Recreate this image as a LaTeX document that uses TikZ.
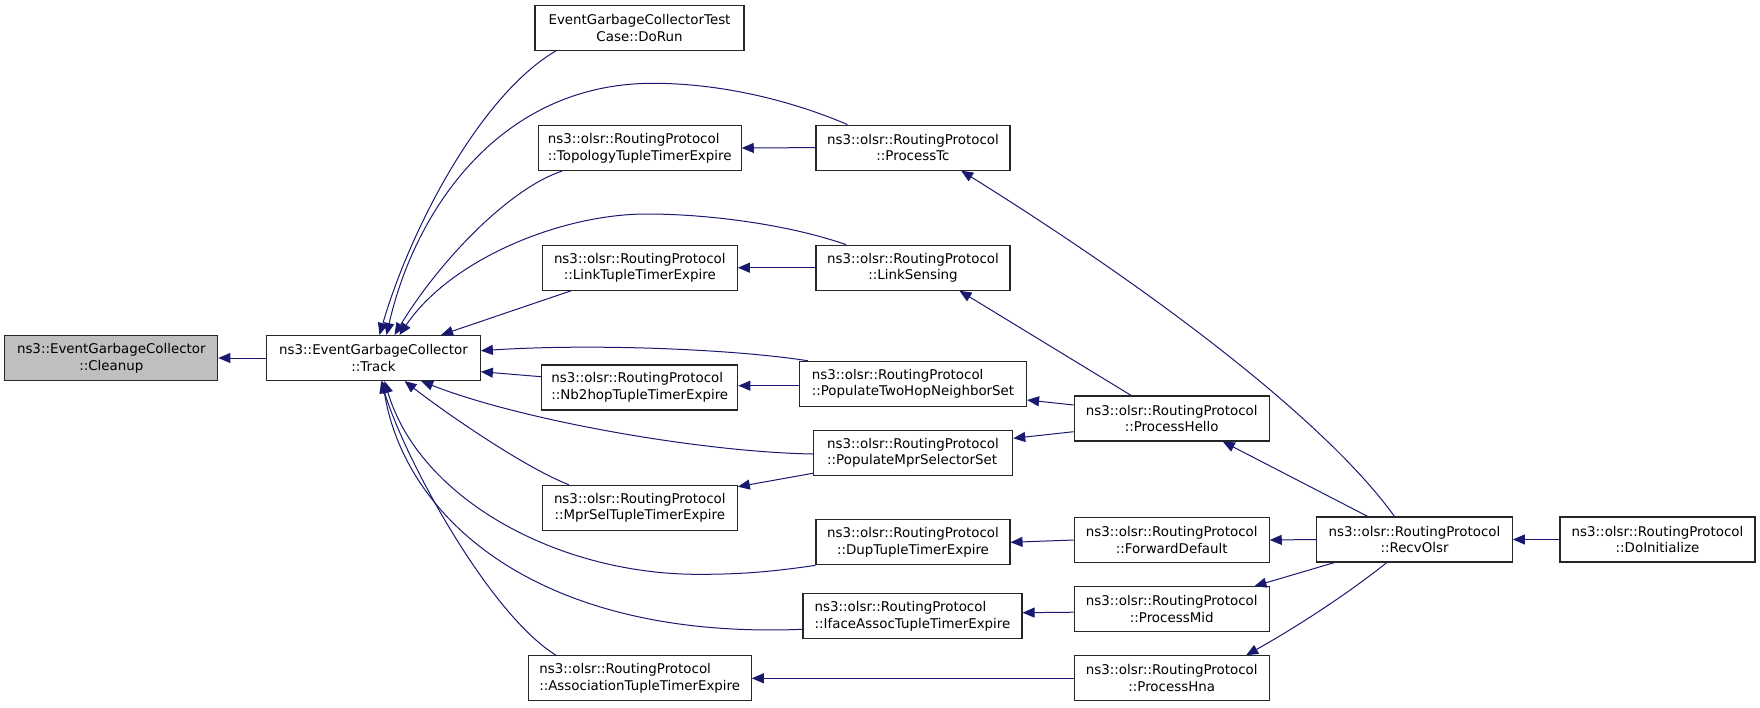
\documentclass[tikz,border=0pt]{standalone}
\usepackage{fontspec}
\setmainfont{DejaVu Sans}
\usetikzlibrary{arrows.meta}
\definecolor{navy}{HTML}{191970}
\definecolor{grayfill}{HTML}{BFBFBF}
\begin{document}
\begin{tikzpicture}[x=1pt,y=-1pt,
  fn/.style={draw=black!85,line width=1.1pt,fill=white,minimum height=45pt,inner sep=0pt,align=center,font=\fontsize{13.4}{16.8}\selectfont},
  fnl/.style={fn,align=left},
  call/.style={draw=navy,line width=1pt,-{Triangle[length=12pt,width=10pt]}}]
\useasboundingbox (0,0) rectangle (1760,707);

% nodes
\node[fn,fill=grayfill,minimum width=213pt] (cleanup) at (111.3,358) {ns3::EventGarbageCollector\\::Cleanup};
\node[fn,minimum width=213.7pt] (track) at (373.5,358) {ns3::EventGarbageCollector\\::Track};
\node[fn,minimum width=209pt] (dorun) at (639.5,27.7) {EventGarbageCollectorTest\\Case::DoRun};
\node[fnl,minimum width=203pt] (topo) at (639.7,148) {ns3::olsr::RoutingProtocol\\::TopologyTupleTimerExpire};
\node[fn,minimum width=194pt] (proctc) at (913,147.6) {ns3::olsr::RoutingProtocol\\::ProcessTc};
\node[fn,minimum width=195pt] (linktuple) at (639.8,267.7) {ns3::olsr::RoutingProtocol\\::LinkTupleTimerExpire};
\node[fn,minimum width=194pt] (linksens) at (913,267.7) {ns3::olsr::RoutingProtocol\\::LinkSensing};
\node[fnl,minimum width=227pt] (pthns) at (913,383.8) {ns3::olsr::RoutingProtocol\\::PopulateTwoHopNeighborSet};
\node[fnl,minimum width=196pt] (nb2hop) at (639.8,387.5) {ns3::olsr::RoutingProtocol\\::Nb2hopTupleTimerExpire};
\node[fnl,minimum width=199.4pt] (pmss) at (913,452.8) {ns3::olsr::RoutingProtocol\\::PopulateMprSelectorSet};
\node[fn,minimum width=195pt] (hello) at (1171.7,418.5) {ns3::olsr::RoutingProtocol\\::ProcessHello};
\node[fn,minimum width=195pt] (mprsel) at (639.8,507.7) {ns3::olsr::RoutingProtocol\\::MprSelTupleTimerExpire};
\node[fn,minimum width=194pt] (dup) at (913,542.3) {ns3::olsr::RoutingProtocol\\::DupTupleTimerExpire};
\node[fn,minimum width=195pt] (fwd) at (1171.7,540) {ns3::olsr::RoutingProtocol\\::ForwardDefault};
\node[fn,minimum width=195.6pt] (recv) at (1414.5,539.5) {ns3::olsr::RoutingProtocol\\::RecvOlsr};
\node[fn,minimum width=195pt] (doinit) at (1657.5,539.5) {ns3::olsr::RoutingProtocol\\::DoInitialize};
\node[fnl,minimum width=219pt] (iface) at (912.5,616) {ns3::olsr::RoutingProtocol\\::IfaceAssocTupleTimerExpire};
\node[fn,minimum width=195pt] (mid) at (1171.7,609.2) {ns3::olsr::RoutingProtocol\\::ProcessMid};
\node[fnl,minimum width=223pt] (assoc) at (639.7,678.3) {ns3::olsr::RoutingProtocol\\::AssociationTupleTimerExpire};
\node[fn,minimum width=195pt] (hna) at (1171.7,678.3) {ns3::olsr::RoutingProtocol\\::ProcessHna};

% edges into Cleanup / Track
\draw[call] (track.west) -- (cleanup.east);
\draw[call] ([xshift=21.7pt]dorun.south west) .. controls (480,95) and (410,230) .. ([xshift=113.4pt]track.north west);
\draw[call] ([xshift=32pt]proctc.north west) .. controls (790,100) and (720,83.3) .. (653,83.3)
   .. controls (500,83.3) and (415,210) .. ([xshift=120.4pt]track.north west);
\draw[call] ([xshift=24.5pt]topo.south west) .. controls (510,188) and (440,260) .. ([xshift=128.4pt]track.north west);
\draw[call] ([xshift=30.7pt]linksens.north west) .. controls (790,225) and (710,214) .. (646.7,214)
   .. controls (560,214) and (450,260) .. ([xshift=133.4pt]track.north west);
\draw[call] ([xshift=29.4pt]linktuple.south west) -- ([xshift=175pt]track.north west);
\draw[call] ([xshift=8.8pt]pthns.north west) .. controls (740,350) and (600,343) .. ([yshift=7.3pt]track.east);
\draw[call] ([yshift=10.8pt]nb2hop.west) -- ([yshift=-13.7pt]track.east);
\draw[call] ([yshift=-1.2pt]pmss.west) .. controls (700,452) and (520,420) .. ([xshift=155pt]track.south west);
\draw[call] ([xshift=27pt]mprsel.north west) .. controls (530,470) and (455,420) .. ([xshift=138.4pt]track.south west);
\draw[call] (dup.south west) .. controls (770,572) and (740,574.3) .. (700,574.3)
   .. controls (560,575) and (420,500) .. ([xshift=118.4pt]track.south west);
\draw[call] ([yshift=-13.3pt]iface.west) .. controls (540,640) and (405,520) .. ([xshift=116.4pt]track.south west);
\draw[call] ([xshift=28.5pt]assoc.north west) .. controls (490,615) and (405,460) .. ([xshift=115pt]track.south west);

% second column edges
\draw[call] (proctc.west) -- (topo.east);
\draw[call] (linksens.west) -- (linktuple.east);
\draw[call] ([yshift=-1.9pt]pthns.west) -- ([yshift=1.8pt]nb2hop.east);
\draw[call] ([yshift=-20.5pt]pmss.west) -- ([yshift=21pt]mprsel.east);

% third column edges
\draw[call] ([yshift=13.5pt]hello.west) -- ([yshift=-16.2pt]pthns.east);
\draw[call] ([yshift=-13.2pt]hello.west) -- ([yshift=14.5pt]pmss.east);
\draw[call] ([xshift=57.5pt]hello.north west) -- ([xshift=144pt]linksens.south west);
\draw[call] ([xshift=78.3pt]recv.north west) .. controls (1340,440) and (1200,320) .. ([xshift=145.7pt]proctc.south west);
\draw[call] ([xshift=51.6pt]recv.north west) -- ([xshift=149.1pt]hello.south west);
\draw[call] (recv.west) -- (fwd.east);
\draw[call] (fwd.west) -- (dup.east);
\draw[call] (doinit.west) -- (recv.east);
\draw[call] ([xshift=18.3pt]recv.south west) -- ([xshift=180.8pt]mid.north west);
\draw[call] ([xshift=70.6pt]recv.south west) .. controls (1350,592) and (1300,625) .. ([xshift=172.5pt]hna.north west);
\draw[call] ([yshift=-3pt]mid.west) -- ([yshift=3.3pt]iface.east);
\draw[call] (hna.west) -- (assoc.east);
\end{tikzpicture}
\end{document}
